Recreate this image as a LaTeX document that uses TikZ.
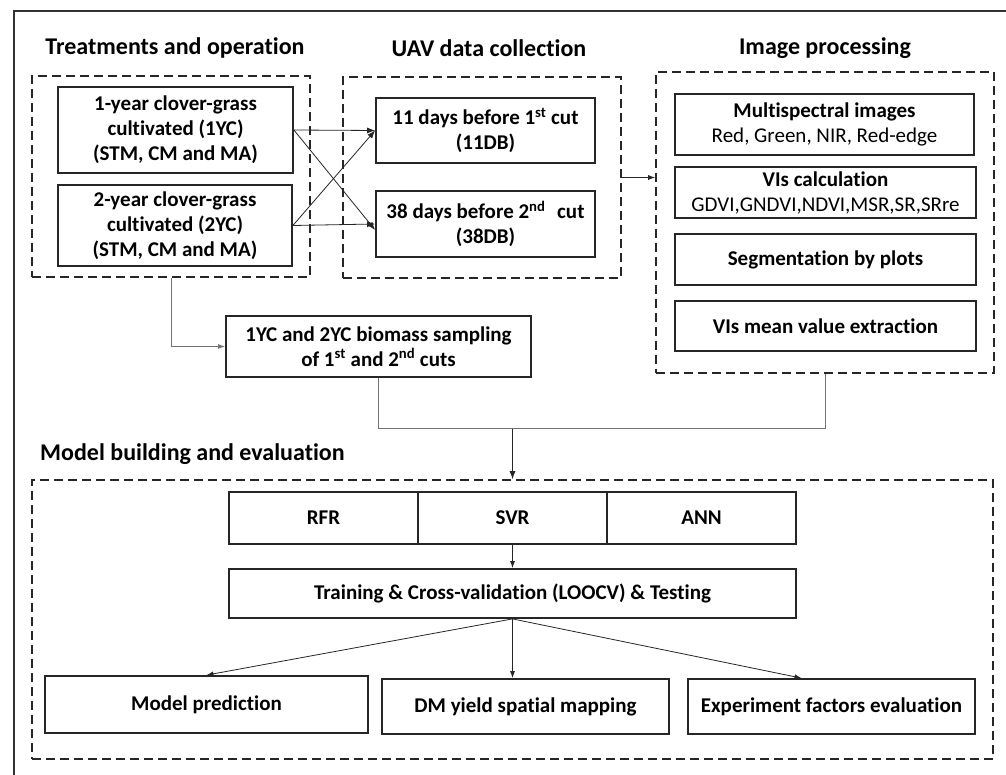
\documentclass[tikz,border=0pt]{standalone}
\usepackage{fontspec}
\setmainfont{Carlito}[Ligatures={NoCommon}]
\usetikzlibrary{arrows.meta,calc}
\begin{document}
\begin{tikzpicture}[x=1pt,y=-1pt,
  box/.style={draw=black!85,line width=1.8pt,rectangle,inner sep=0pt,align=center,
    font=\fontsize{21}{25}\selectfont\bfseries},
  grp/.style={draw=black!85,line width=1.7pt,dash pattern=on 9pt off 5pt,rectangle,inner sep=0pt},
  ttl/.style={font=\fontsize{24}{28}\selectfont\bfseries,inner sep=0pt},
  arr/.style={-{Latex[length=8pt,width=6pt]},line width=0.8pt,draw=black!85},
  sarr/.style={-{Latex[length=7pt,width=5pt]},line width=0.8pt,draw=black!85},
  gline/.style={line width=0.9pt,draw=black!55},
  frame/.style={line width=2pt,draw=black!80}]
\useasboundingbox (0,0) rectangle (1006,775);
\fill[white] (0,0) rectangle (1006,775);
% outer frame (left and top edges; right and bottom lie outside)
\coordinate (fbl) at (14,775);
\coordinate (ftl) at (14,11);
\coordinate (ftr) at (1006,11);
\draw[frame] (fbl) -- (ftl) -- (ftr);

% titles
\node[ttl] (t1) at (175,48) {Treatments and operation};
\node[ttl] (t2) at (489,48) {UAV data collection};
\node[ttl] (t3) at (825,48) {Image processing};
\node[ttl,anchor=west] (t4) at (40,454) {Model building and evaluation};

% group boxes
\node[grp,minimum width=278,minimum height=201] (g1) at (171,176.5) {};
\node[grp,minimum width=278,minimum height=201] (g2) at (482,177.5) {};
\node[grp,minimum width=338,minimum height=301] (g3) at (825,222.5) {};
\node[grp,minimum width=961,minimum height=279] (g4) at (512.5,619.5) {};

% treatments
\node[box,minimum width=235,minimum height=86] (b1) at (175.5,130)
  {1-year clover-grass\\cultivated (1YC)\\(STM, CM and MA)};
\node[box,minimum width=234,minimum height=81] (b2) at (175,225.5)
  {2-year clover-grass\\cultivated (2YC)\\(STM, CM and MA)};

% UAV
\node[box,minimum width=219,minimum height=65] (c1) at (485.5,130.5)
  {11 days before 1\textsuperscript{st} cut\\(11DB)};
\node[box,minimum width=219,minimum height=66] (c2) at (485.5,224)
  {38 days before 2\textsuperscript{nd}\,\, cut\\(38DB)};

% image processing
\node[box,minimum width=299,minimum height=61] (d1) at (824.5,124.5)
  {Multispectral images\\{\mdseries Red, Green, NIR, Red-edge}};
\node[box,minimum width=301,minimum height=51] (d2) at (825.5,192.5)
  {VIs calculation\\{\mdseries GDVI,GNDVI,NDVI,MSR,SR,SRre}};
\node[box,minimum width=301,minimum height=51] (d3) at (825.5,259.5)
  {Segmentation by plots};
\node[box,minimum width=301,minimum height=50] (d4) at (825.5,326)
  {VIs mean value extraction};

% biomass
\node[box,minimum width=305,minimum height=61] (e) at (378.5,346.5)
  {1YC and 2YC biomass sampling\\of 1\textsuperscript{st} and 2\textsuperscript{nd} cuts};

% model building
\node[box,minimum width=189,minimum height=52] (rfr) at (323.5,518) {RFR};
\node[box,minimum width=189,minimum height=52] (svr) at (512.5,518) {SVR};
\node[box,minimum width=189,minimum height=52] (ann) at (701.5,518) {ANN};
\node[box,minimum width=567,minimum height=49] (tr) at (512.5,593.5)
  {Training \& Cross-validation (LOOCV) \& Testing};
\node[box,minimum width=323,minimum height=57] (mp) at (206.5,704.5) {Model prediction};
\node[box,minimum width=287,minimum height=55] (dm) at (525.5,706.5) {DM yield spatial mapping};
\node[box,minimum width=287,minimum height=55] (ex) at (831.5,706.5) {Experiment factors evaluation};

% connectors: treatments -> UAV
\draw[arr] (b1.east) -- (c1.west);
\draw[arr] (b1.east) -- ([yshift=-6pt]c2.west);
\draw[arr] (b2.east) -- (c1.west);
\draw[arr] (b2.east) -- (c2.west);

% UAV -> image processing
\draw[sarr] (g2.east) -- (g2.east -| g3.west);

% treatments -> biomass
\draw[gline,-{Latex[length=7pt,width=5pt]}] (g1.south) |- (e.west);

% merge into model building
\coordinate (m1) at ($(e.south)+(0,51)$);
\coordinate (m2) at (m1 -| g3.south);
\coordinate (m3) at (m1 -| g4.north);
\draw[gline] (e.south) -- (m1) -- (m2) -- (g3.south);
\draw[arr] (m3) -- (g4.north);

% inside model building
\draw[sarr] (svr.south) -- (tr.north);
\draw[sarr] (tr.south) -- (mp.north);
\draw[sarr] (tr.south) -- (tr.south |- dm.north);
\draw[sarr] (tr.south) -- ([xshift=-30pt]ex.north);
\end{tikzpicture}
\end{document}
